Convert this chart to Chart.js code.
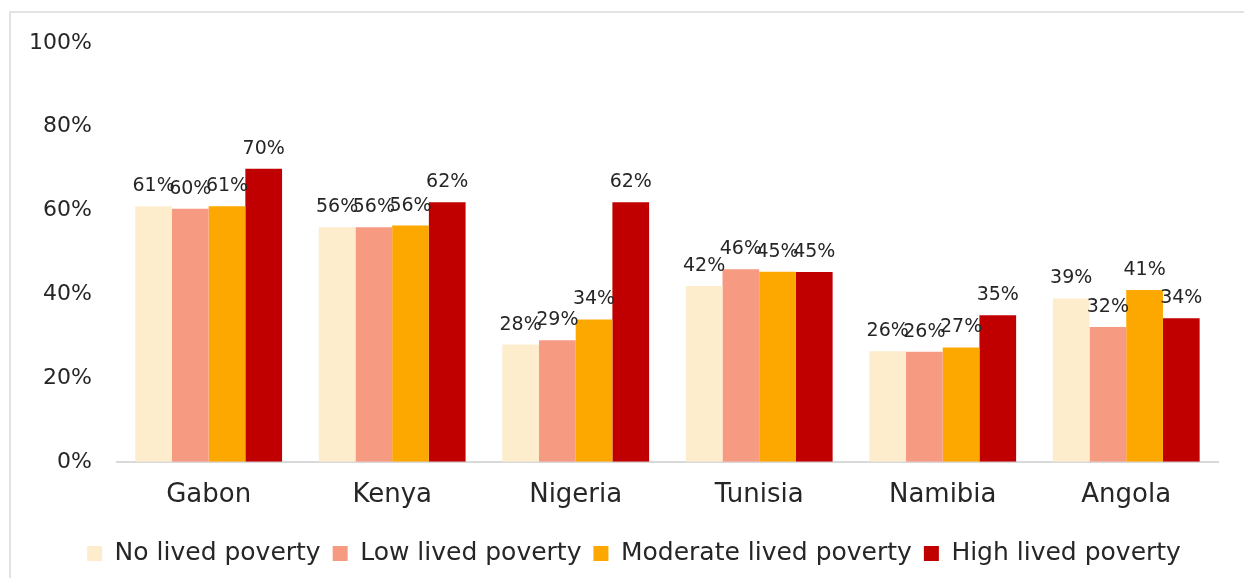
<!DOCTYPE html>
<html>
<head>
<meta charset="utf-8">
<script src="https://cdn.jsdelivr.net/npm/chart.js@4"></script>
<style>
  html, body { margin: 0; padding: 0; background: #fff; }
  #frame {
    position: absolute;
    left: 9px;
    top: 11px;
    width: 1235px;
    height: 567px;
    border-left: 2px solid #e3e3e3;
    border-top: 2px solid #e3e3e3;
  }
  #chart-box { position: relative; width: 1233px; height: 565px; }
</style>
</head>
<body>
<div id="frame"><div id="chart-box"><canvas id="poverty-chart"></canvas></div></div>
<script>
const countries = ['Gabon', 'Kenya', 'Nigeria', 'Tunisia', 'Namibia', 'Angola'];
const noPoverty = [61, 56, 28, 42, 26.4, 39];
const lowPoverty = [60.4, 56, 29, 46, 26.3, 32.2];
const moderatePoverty = [61, 56.4, 34, 45.4, 27.3, 41];
const highPoverty = [70, 62, 62, 45.3, 35, 34.3];
const seriesNames = ['No lived poverty', 'Low lived poverty', 'Moderate lived poverty', 'High lived poverty'];
const yTicks = [0, 20, 40, 60, 80, 100];

const fontFamily = "'DejaVu Sans', sans-serif";

// draws the value above each bar
const barLabels = {
    id: 'barLabels',
    afterDatasetsDraw(chart) {
        const ctx = chart.ctx;
        ctx.save();
        ctx.font = '19px ' + fontFamily;
        ctx.fillStyle = '#262626';
        ctx.textAlign = 'center';
        ctx.textBaseline = 'alphabetic';
        chart.data.datasets.forEach((ds, i) => {
            chart.getDatasetMeta(i).data.forEach((bar, j) => {
                ctx.fillText(Math.round(ds.data[j]) + '%', bar.x, bar.y - 15);
            });
        });
        ctx.restore();
    }
};

// legend sits a little right of the canvas centre in the original
const legendShift = {
    id: 'legendShift',
    afterLayout(chart) {
        chart.legend.left += 15;
        chart.legend.right += 15;
    }
};

const ctx = document.getElementById('poverty-chart').getContext('2d');
new Chart(ctx, {
    type: 'bar',
    data: {
        labels: countries,
        datasets: [
            { label: seriesNames[0], data: noPoverty, backgroundColor: '#fdedcd' },
            { label: seriesNames[1], data: lowPoverty, backgroundColor: '#f79a82' },
            { label: seriesNames[2], data: moderatePoverty, backgroundColor: '#fda800' },
            { label: seriesNames[3], data: highPoverty, backgroundColor: '#c00000' }
        ]
    },
    options: {
        responsive: true,
        maintainAspectRatio: false,
        animation: false,
        layout: {
            padding: { left: 9, right: 26, top: 30, bottom: 2 }
        },
        datasets: {
            bar: {
                barPercentage: 1.0,
                categoryPercentage: 0.8
            }
        },
        plugins: {
            legend: {
                display: true,
                position: 'bottom',
                labels: {
                    color: '#262626',
                    font: { family: fontFamily, size: 25 },
                    boxWidth: 15,
                    boxHeight: 15,
                    padding: 12
                }
            },
            tooltip: { enabled: false }
        },
        scales: {
            x: {
                grid: { display: false, drawTicks: false },
                border: { display: true, color: '#d9d9d9', width: 2 },
                ticks: {
                    color: '#262626',
                    font: { family: fontFamily, size: 26 },
                    padding: 18
                }
            },
            y: {
                min: 0,
                max: 100,
                afterBuildTicks(axis) {
                    axis.ticks = yTicks.map(v => ({ value: v }));
                },
                afterFit(axis) {
                    axis.width -= 16;
                    axis.paddingTop = 0;
                },
                grid: { display: false, drawTicks: false },
                border: { display: false },
                ticks: {
                    color: '#262626',
                    font: { family: fontFamily, size: 22 },
                    padding: 25,
                    callback: function(value) {
                        return value + '%';
                    }
                }
            }
        }
    },
    plugins: [barLabels, legendShift]
});
</script>
</body>
</html>
